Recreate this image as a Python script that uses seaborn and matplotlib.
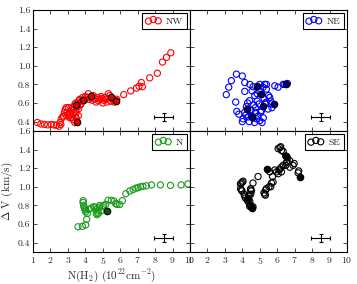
import numpy as np
import pandas as pd
import seaborn as sns
import matplotlib
matplotlib.use("Agg")
import matplotlib.pyplot as plt
from matplotlib.ticker import FormatStrFormatter

# ---------------- data ----------------
regions = ["NW", "NE", "N", "SE"]

nw_x = [1.25, 1.45, 1.65, 1.85, 2.05, 2.2, 2.35, 2.5, 2.6, 2.55,
        2.62, 2.7, 2.75, 2.8, 2.85, 2.9, 2.95, 3.0, 3.03, 3.05, 3.1, 3.12, 3.15, 3.2, 3.22,
        3.25, 3.3, 3.3, 3.35, 3.38, 3.4, 3.42, 3.45, 3.48, 3.5, 3.55, 3.58, 3.6, 3.62, 3.64,
        3.68, 3.7, 3.75, 3.8,
        3.85, 3.95, 4.0, 4.08, 4.17, 4.22, 4.3, 4.4, 4.45, 4.56, 4.62, 4.7, 4.75, 4.83, 4.9,
        4.94, 5.0, 5.05, 5.13, 5.2, 5.25, 5.32, 5.4, 5.45, 5.5, 5.6, 5.65, 5.72, 5.8,
        6.2, 6.6, 6.93, 7.08, 7.21, 7.27, 7.69, 8.13, 8.42, 8.65, 8.9]
nw_y = [0.39, 0.375, 0.37, 0.365, 0.37, 0.365, 0.36, 0.35, 0.37, 0.39,
        0.43, 0.45, 0.46, 0.5, 0.53, 0.55, 0.5, 0.47, 0.55, 0.45, 0.5, 0.48, 0.44, 0.52, 0.445,
        0.55, 0.53, 0.42, 0.5, 0.58, 0.39, 0.46, 0.6, 0.5, 0.43, 0.56, 0.6, 0.465, 0.54, 0.625,
        0.64, 0.58, 0.59, 0.62,
        0.66, 0.63, 0.67, 0.66, 0.70, 0.64, 0.66, 0.63, 0.68, 0.645, 0.61, 0.66, 0.625, 0.64, 0.67,
        0.65, 0.6, 0.63, 0.66, 0.64, 0.61, 0.70, 0.68, 0.62, 0.66, 0.64, 0.61, 0.63, 0.64,
        0.69, 0.73, 0.76, 0.78, 0.82, 0.775, 0.87, 0.92, 1.04, 1.09, 1.14]
nw_fx = [3.47, 3.55, 3.89, 4.3, 5.5, 5.75]
nw_fy = [0.58, 0.40, 0.635, 0.68, 0.66, 0.62]

ne_x = [3.08, 3.22, 3.37, 3.66, 4.0, 4.14, 4.14, 3.62, 3.68, 3.8, 4.04, 4.0, 4.14, 4.2, 4.23,
        4.33, 4.42, 4.43, 4.5, 4.52, 4.56, 4.62, 4.65, 4.7, 4.71, 4.75, 4.81, 4.85, 4.9, 4.96,
        5.0, 5.0, 5.0, 5.05, 5.1, 5.13, 5.19, 5.25, 5.28, 5.3, 5.38, 5.38, 5.38, 5.47, 5.5,
        5.57, 5.63, 5.67, 5.7, 5.86, 6.05, 6.34, 6.43, 6.58, 4.3, 4.6, 4.85, 5.2, 4.4, 4.75]
ne_y = [0.69, 0.77, 0.84, 0.91, 0.89, 0.82, 0.725, 0.61, 0.51, 0.48, 0.43, 0.40, 0.50, 0.47, 0.56,
        0.45, 0.625, 0.80, 0.52, 0.465, 0.73, 0.775, 0.58, 0.39, 0.68, 0.55, 0.43, 0.62, 0.46, 0.59,
        0.73, 0.8, 0.41, 0.5, 0.52, 0.39, 0.77, 0.65, 0.8, 0.59, 0.80, 0.61, 0.75, 0.535, 0.68,
        0.66, 0.62, 0.59, 0.55, 0.785, 0.77, 0.80, 0.80, 0.81, 0.60, 0.44, 0.70, 0.44, 0.40, 0.50]
ne_fx = [4.24, 4.58, 4.82, 5.08, 5.19, 5.84, 6.5]
ne_fy = [0.535, 0.45, 0.785, 0.70, 0.57, 0.585, 0.805]

n_x = [3.58, 3.83, 4.02, 4.08, 4.12, 4.02, 3.96, 3.9, 3.87, 3.88, 3.93, 4.0, 4.21, 4.35, 4.48,
       4.56, 4.63, 4.63, 4.67, 4.72, 4.79, 4.82, 4.75, 4.9, 4.98, 5.05, 5.17, 5.3, 5.49, 5.65,
       5.74, 5.82, 5.97, 6.12, 6.32, 6.55, 6.74, 6.9, 7.02, 7.16, 7.3, 7.5, 7.79, 8.3, 8.88,
       9.49, 9.88]
n_y = [0.57, 0.575, 0.59, 0.65, 0.715, 0.73, 0.76, 0.80, 0.83, 0.85, 0.78, 0.75, 0.76, 0.77, 0.785,
       0.78, 0.76, 0.715, 0.70, 0.74, 0.78, 0.80, 0.715, 0.74, 0.785, 0.80, 0.81, 0.855, 0.855, 0.845,
       0.82, 0.81, 0.81, 0.85, 0.925, 0.955, 0.97, 0.985, 0.99, 1.0, 1.005, 1.01, 1.02, 1.02, 1.015,
       1.02, 1.03]
n_fx = [5.22]
n_fy = [0.735]

se_x = [3.89, 3.94, 4.0, 4.04, 3.9, 3.95, 3.98, 4.1, 4.14, 4.17, 4.29, 4.37, 4.39, 4.43, 4.47,
        4.47, 4.48, 4.52, 4.48, 4.33, 4.42, 4.52, 4.61, 4.61, 4.9, 5.24, 5.28, 5.32, 5.34, 5.38,
        5.53, 5.57, 5.63, 5.67, 5.73, 5.76, 5.86, 5.96, 6.05, 6.1, 6.15, 6.24, 6.24, 6.34, 6.49,
        6.53, 6.57, 6.49, 6.59, 6.72, 6.34, 6.24, 6.15, 6.05, 6.2, 6.72, 6.91, 6.97, 7.2, 7.23]
se_y = [1.03, 1.04, 1.05, 1.06, 0.98, 0.965, 0.955, 0.92, 0.90, 0.88, 0.86, 0.9, 0.91, 0.84, 0.80,
        0.965, 0.92, 0.955, 0.98, 0.84, 0.79, 0.78, 0.785, 1.04, 1.11, 0.935, 0.92, 0.91, 0.965, 0.98,
        1.0, 1.16, 1.0, 1.04, 1.11, 1.05, 1.18, 1.16, 1.14, 1.18, 1.19, 1.21, 1.16, 1.23, 1.23,
        1.26, 1.27, 1.33, 1.31, 1.28, 1.38, 1.39, 1.42, 1.41, 1.43, 1.21, 1.23, 1.25, 1.15, 1.17]
se_fx = [5.4, 4.33, 4.54, 7.33, 6.53]
se_fy = [1.19, 0.875, 0.77, 1.11, 1.33]

err_x = [8.5]
err_y = [0.45]
err_dx = [0.55]
err_dy = [0.045]

x_ticks = [1, 2, 3, 4, 5, 6, 7, 8, 9, 10]
y_ticks = [0.4, 0.6, 0.8, 1.0, 1.2, 1.4, 1.6]

# ---------------- style ----------------
sns.set_style("ticks")
plt.rcParams["font.family"] = ["serif"]
plt.rcParams["font.serif"] = ["cmr10", "DejaVu Serif"]
plt.rcParams["mathtext.fontset"] = "cm"
plt.rcParams["axes.formatter.use_mathtext"] = True

open_colors = ["#ff0000", "#0000ff", "#1a9a1a", "#000000"]
fill_colors = ["#e00000", "#000080", "#006000", "#000000"]

series = [
    (nw_x, nw_y, nw_fx, nw_fy),
    (ne_x, ne_y, ne_fx, ne_fy),
    (n_x, n_y, n_fx, n_fy),
    (se_x, se_y, se_fx, se_fy),
]

fig, axes = plt.subplots(2, 2, figsize=(3.57, 2.84), dpi=100, sharex=True, sharey=True)
fig.subplots_adjust(left=0.0924, right=0.972, top=0.965, bottom=0.113, wspace=0, hspace=0)

for i, ax in enumerate(axes.flat):
    ox, oy, fx, fy = series[i]
    df_open = pd.DataFrame({"x": ox, "y": oy})
    df_fill = pd.DataFrame({"x": fx, "y": fy})
    sns.scatterplot(data=df_open, x="x", y="y", ax=ax, marker="o", s=20,
                    facecolor="none", edgecolor=open_colors[i], linewidth=0.8,
                    label=regions[i], legend=False)
    sns.scatterplot(data=df_fill, x="x", y="y", ax=ax, marker="o", s=22,
                    facecolor=fill_colors[i], edgecolor="black", linewidth=0.8,
                    legend=False)
    ax.errorbar(err_x, err_y, xerr=err_dx, yerr=err_dy, fmt="none",
                ecolor="black", elinewidth=0.8, capsize=1.5, capthick=0.8)
    ax.set_xlim(1, 10)
    ax.set_ylim(0.3, 1.6)
    ax.set_xticks(x_ticks)
    ax.set_yticks(y_ticks)
    ax.yaxis.set_major_formatter(FormatStrFormatter("%.1f"))
    ax.tick_params(direction="in", top=True, right=True, length=3, width=0.6,
                   labelsize=7, pad=2)
    for sp in ax.spines.values():
        sp.set_color("black")
        sp.set_linewidth(0.8)
    ax.set_xlabel("")
    ax.set_ylabel("")
    leg = ax.legend(loc="upper right", scatterpoints=3,
                    scatteryoffsets=[0.35, 0.6, 0.4], fancybox=False,
                    edgecolor="black", framealpha=1, fontsize=7,
                    handlelength=1.6, handletextpad=0.5, borderpad=0.35,
                    borderaxespad=0.35)
    leg.get_frame().set_linewidth(0.8)

axes[1, 0].set_xlabel(r"N(H$_2$) (10$^{22}$cm$^{-2}$)", fontsize=8, labelpad=1)
axes[1, 0].set_ylabel(r"$\Delta$ V (km/s)", fontsize=8, labelpad=2)
axes[1, 1].tick_params(labelbottom=True)

fig.savefig("out.png", dpi=100)
